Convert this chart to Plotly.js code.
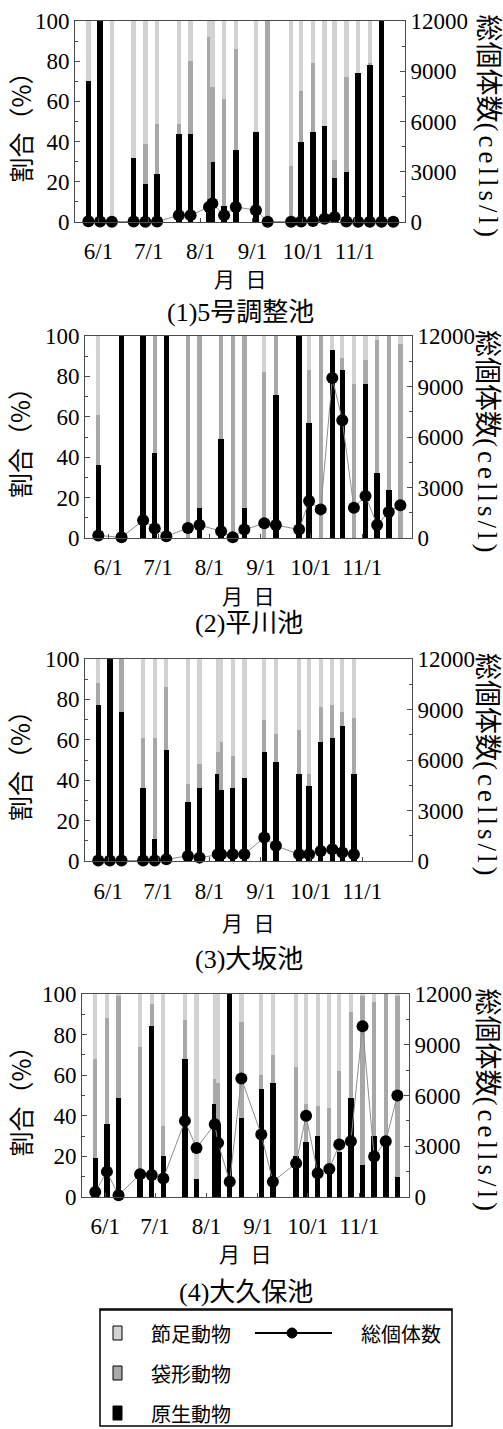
<!DOCTYPE html>
<html><head><meta charset="utf-8">
<script src="https://cdn.plot.ly/plotly-3.0.1.min.js"></script>
<style>html,body{margin:0;padding:0;background:#fff}#chart{width:503px;height:1429px}</style>
</head><body><div id="chart"></div>
<script>
// ---------- data ----------
const sampleDates = ['2007-05-26','2007-06-02','2007-06-09','2007-06-22','2007-06-29','2007-07-06','2007-07-19','2007-07-26','2007-08-06','2007-08-08','2007-08-15','2007-08-22','2007-09-03','2007-09-10','2007-09-24','2007-09-30','2007-10-07','2007-10-14','2007-10-20','2007-10-27','2007-11-03','2007-11-10','2007-11-17','2007-11-24'];
const tickDates = ['2007-06-01','2007-07-01','2007-08-01','2007-09-01','2007-10-01','2007-11-01'];
const tickLabels = ['6/1','7/1','8/1','9/1','10/1','11/1'];
const panelTitles = ['(1)5号調整池','(2)平川池','(3)大坂池','(4)大久保池'];
const seriesNames = ['原生動物','袋形動物','節足動物','総個体数'];

// (1) 5号調整池
const p1Dates = sampleDates;
const p1Proto  = [70,100,0,32,19,24,44,44,5,30,8,36,45,0,0,40,45,48,22,25,74,78,100,0];
const p1Roti   = [0,0,0,0,20,25,5,36,87,37,53,50,0,100,28,25,34,0,9,47,0,1,0,0];
const p1Arthro = [30,0,100,68,61,51,51,20,8,33,39,14,55,0,72,35,21,52,69,28,26,21,0,0];
const p1Total  = [40,30,20,30,20,30,400,400,900,1100,400,900,700,20,20,30,60,200,300,30,20,20,20,20];

// (2) 平川池
const p2Dates = ['2007-05-26','2007-06-09','2007-06-22','2007-06-29','2007-07-06','2007-07-19','2007-07-26','2007-08-08','2007-08-15','2007-08-22','2007-09-03','2007-09-10','2007-09-24','2007-09-30','2007-10-07','2007-10-14','2007-10-20','2007-10-27','2007-11-03','2007-11-10','2007-11-17','2007-11-24'];
const p2Proto  = [36,100,100,42,100,0,15,49,0,15,0,71,100,57,0,93,83,0,76,32,24,0];
const p2Roti   = [25,0,0,58,0,100,85,51,100,85,82,29,0,26,100,0,6,76,12,66,76,96];
const p2Arthro = [39,0,0,0,0,0,0,0,0,0,18,0,0,17,0,7,11,24,12,2,0,4];
const p2Total  = [150,40,1050,570,100,590,770,400,40,500,870,770,500,2200,1700,9500,7000,1800,2500,770,1550,1950];

// (3) 大坂池
const p3Dates = sampleDates.slice(0,20);
const p3Proto  = [77,100,74,36,11,55,29,36,43,35,36,41,54,49,43,37,59,61,67,43];
const p3Roti   = [11,0,26,25,50,31,9,12,11,24,16,0,16,14,22,6,17,16,7,28];
const p3Arthro = [12,0,0,39,39,14,62,52,46,41,48,59,30,37,35,57,24,23,26,29];
const p3Total  = [30,30,30,30,30,100,300,200,400,400,400,400,1400,900,400,400,600,700,500,400];

// (4) 大久保池
const p4Dates = sampleDates;
const p4Proto  = [19,36,49,13,84,20,68,9,46,36,100,39,53,56,20,27,30,14,22,49,16,30,30,10];
const p4Roti   = [49,52,50,61,11,15,19,0,12,20,0,47,7,14,44,19,15,30,40,42,83,66,70,89];
const p4Arthro = [32,12,1,26,5,65,13,91,42,44,0,14,40,30,36,54,55,56,38,9,1,4,0,1];
const p4Total  = [300,1500,100,1350,1300,1100,4500,2900,4300,3200,900,7000,3700,900,2000,4800,1400,1650,3100,3300,10100,2400,3300,6000];

// ---------- layout helpers ----------
const W = 503, H = 1429;
const px = x => x / W, py = y => 1 - y / H;
const boxes = [
  {l:75, r:405, t:21,  b:222,  stand:8,  xlab:278, title:312},
  {l:85, r:412, t:336, b:538,  stand:8,  xlab:595, title:623},
  {l:85, r:412, t:659, b:861,  stand:9,  xlab:922, title:959},
  {l:82, r:409, t:994, b:1197, stand:8,  xlab:1253, title:1292}
];
const SERIF = 'Liberation Serif, Noto Sans CJK JP, serif';
const GOTH = 'Noto Sans CJK JP, sans-serif';
const COL = {proto:'#000000', roti:'#a8a8a8', arthro:'#d2d2d2', line:'#8c8c8c', axis:'#4a4a4a'};
const DAY = 86400000;
const blackWidth = 3.3 * DAY, grayWidth = 2.6 * DAY;

const panels = [
  [p1Dates,p1Proto,p1Roti,p1Arthro,p1Total],
  [p2Dates,p2Proto,p2Roti,p2Arthro,p2Total],
  [p3Dates,p3Proto,p3Roti,p3Arthro,p3Total],
  [p4Dates,p4Proto,p4Roti,p4Arthro,p4Total]
];

const traces = [];
const layout = {
  width: W, height: H, margin:{l:0,r:0,t:0,b:0},
  paper_bgcolor:'#fff', plot_bgcolor:'#fff',
  barmode:'stack', showlegend:false,
  font:{family:SERIF, size:23, color:'#000'},
  annotations:[], shapes:[]
};
const tf = {family:SERIF, size:23, color:'#000'};

panels.forEach((p,i) => {
  const [d, pr, ro, ar, tot] = p;
  const xn = i===0 ? 'x' : 'x'+(i+1);
  const yl = 'y'+(2*i+1===1?'':2*i+1);
  const yr = 'y'+(2*i+2);
  const bx = boxes[i];
  const ylName = 'yaxis'+(2*i+1===1?'':2*i+1);
  const yrName = 'yaxis'+(2*i+2);
  const xName = 'xaxis'+(i===0?'':i+1);
  traces.push({type:'bar', x:d, y:pr, name:seriesNames[0], xaxis:xn, yaxis:yl, width:blackWidth, marker:{color:COL.proto, line:{width:0}}});
  traces.push({type:'bar', x:d, y:ro, name:seriesNames[1], xaxis:xn, yaxis:yl, width:grayWidth, marker:{color:COL.roti, line:{width:0}}});
  traces.push({type:'bar', x:d, y:ar, name:seriesNames[2], xaxis:xn, yaxis:yl, width:grayWidth, marker:{color:COL.arthro, line:{width:0}}});
  traces.push({type:'scatter', mode:'lines+markers', x:d, y:tot, name:seriesNames[3], xaxis:xn, yaxis:yr,
    line:{color:COL.line, width:1}, marker:{color:'#000', size:12}, cliponaxis:false});
  layout[xName] = {
    domain:[px(bx.l), px(bx.r)], anchor:yl, type:'date',
    range:['2007-05-18','2007-12-01'], tickmode:'array', tickvals:tickDates, ticktext:tickLabels,
    ticks:'inside', ticklen:4, tickcolor:COL.axis, showline:true, linecolor:COL.axis, linewidth:1, mirror:true,
    ticklabelstandoff:bx.stand,
    showgrid:false, zeroline:false, tickfont:tf, fixedrange:true
  };
  layout[ylName] = {
    domain:[py(bx.b), py(bx.t)], anchor:xn, range:[0,100], dtick:20, tick0:0,
    ticks:'inside', ticklen:5, tickcolor:COL.axis, showline:true, linecolor:COL.axis, linewidth:1,
    minor:{dtick:10, ticks:'inside', ticklen:3, tickcolor:COL.axis},
    showgrid:false, zeroline:false, tickfont:tf, fixedrange:true
  };
  layout[yrName] = {
    overlaying:yl, anchor:xn, side:'right', range:[0,12000], dtick:3000, tick0:0, tickformat:'d',
    ticks:'inside', ticklen:5, tickcolor:COL.axis, showline:true, linecolor:COL.axis, linewidth:1,
    minor:{dtick:1500, ticks:'inside', ticklen:3, tickcolor:COL.axis},
    showgrid:false, zeroline:false, tickfont:tf, fixedrange:true
  };
  const midY = (bx.t + bx.b) / 2;
  layout.annotations.push({xref:'paper', yref:'paper', x:px(19), y:py(midY), text:'割合（%）', textangle:-90,
    showarrow:false, font:{family:GOTH, size:25, color:'#000'}, xanchor:'center', yanchor:'middle'});
  layout.annotations.push({xref:'paper', yref:'paper', x:px(487), y:py(midY + 6),
    text:'総個体数<span style="letter-spacing:4px">(cells/l)</span>', textangle:90,
    showarrow:false, font:{family:SERIF, size:27, color:'#000'}, xanchor:'center', yanchor:'middle'});
  layout.annotations.push({xref:'paper', yref:'paper', x:px((bx.l+bx.r)/2), y:py(bx.xlab), text:'月\u2002日',
    showarrow:false, font:{family:GOTH, size:21, color:'#000'}, xanchor:'center', yanchor:'middle'});
  layout.annotations.push({xref:'paper', yref:'paper', x:px((bx.l+bx.r)/2), y:py(bx.title), text:panelTitles[i],
    showarrow:false, font:{family:SERIF, size:26, color:'#000'}, xanchor:'center', yanchor:'middle'});
});

// ---------- legend (drawn) ----------
const lg = {l:100, r:452, t:1309, b:1426};
layout.shapes.push({type:'rect', xref:'paper', yref:'paper', x0:px(lg.l), x1:px(lg.r), y0:py(lg.b), y1:py(lg.t), line:{color:'#000', width:1.5}, fillcolor:'rgba(0,0,0,0)'});
layout.shapes.push({type:'line', xref:'paper', yref:'paper', x0:px(lg.l), x1:px(lg.r), y0:py(lg.t+1), y1:py(lg.t+1), line:{color:'#000', width:1.5}});
const legRows = [[seriesNames[2], COL.arthro, 1333],[seriesNames[1], COL.roti, 1373],[seriesNames[0], COL.proto, 1413]];
legRows.forEach(r => {
  layout.shapes.push({type:'rect', xref:'paper', yref:'paper', x0:px(113), x1:px(122), y0:py(r[2]+7), y1:py(r[2]-7), line:{color:'#000', width:1}, fillcolor:r[1]});
  layout.annotations.push({xref:'paper', yref:'paper', x:px(149), y:py(r[2]), text:r[0], showarrow:false, xanchor:'left', yanchor:'middle', font:{family:GOTH, size:20, color:'#000'}});
});
layout.shapes.push({type:'line', xref:'paper', yref:'paper', x0:px(255), x1:px(332), y0:py(1333), y1:py(1333), line:{color:'#000', width:2}});
layout.shapes.push({type:'circle', xref:'paper', yref:'paper', x0:px(287), x1:px(297), y0:py(1338), y1:py(1328), line:{color:'#000', width:1}, fillcolor:'#000'});
layout.annotations.push({xref:'paper', yref:'paper', x:px(359), y:py(1333), text:seriesNames[3], showarrow:false, xanchor:'left', yanchor:'middle', font:{family:GOTH, size:20, color:'#000'}});

Plotly.newPlot('chart', traces, layout, {staticPlot:true, displayModeBar:false});
</script>
</body></html>
